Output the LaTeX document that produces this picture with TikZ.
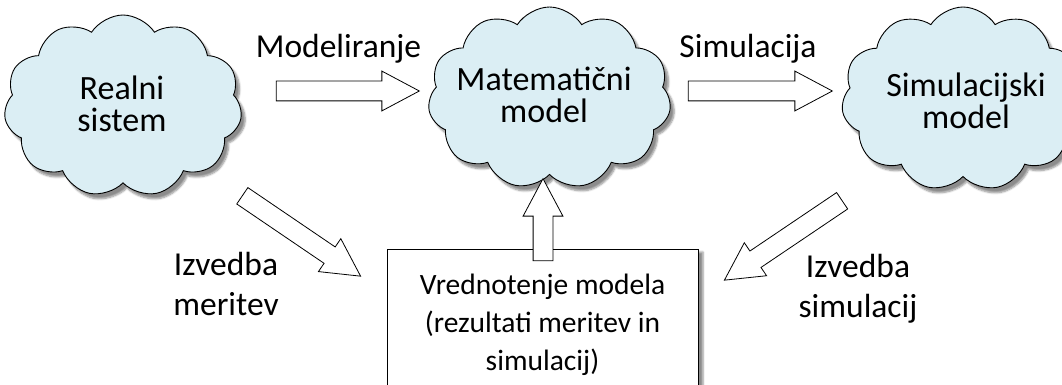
\documentclass[tikz,border=0pt]{standalone}
\usepackage{fontspec}
\setmainfont{Carlito}
\usetikzlibrary{shapes.symbols,shapes.arrows,shadows.blur}
\definecolor{oblakmodra}{RGB}{219,238,244}
\tikzset{
  oblak/.style={cloud, cloud puffs=11, cloud puff arc=115, cloud ignores aspect,
    draw=black, line width=0.9pt, fill=oblakmodra, inner sep=0pt,
    blur shadow={shadow xshift=4pt, shadow yshift=-5pt, shadow opacity=45, shadow blur steps=6}},
  oblaktekst/.style={align=center, font=\fontsize{34}{32}\selectfont},
  napis/.style={align=center, font=\fontsize{33.5}{40}\selectfont},
  puscica/.style={single arrow, draw=black, fill=white, line width=0.8pt,
    inner xsep=0pt, inner ysep=9.5pt, single arrow head extend=10pt,
    single arrow tip angle=56, minimum width=0pt},
  okvir/.style={draw=black, fill=white, line width=0.8pt, minimum width=311pt,
    minimum height=151pt, align=center, font=\fontsize{29.5}{38}\selectfont,
    blur shadow={shadow xshift=5pt, shadow yshift=-3pt, shadow opacity=45}}
}
\begin{document}
\begin{tikzpicture}[x=1pt,y=-1pt]
    \useasboundingbox (0,0) rectangle (1062,385);

    \node[oblak, minimum width=238pt, minimum height=182pt] (realni) at (123,106) {};
    \node[oblak, minimum width=243pt, minimum height=182pt] (matem) at (549.5,98) {};
    \node[oblak, minimum width=243pt, minimum height=184pt] (simul) at (963,99) {};
    \node[oblaktekst] (realnitekst) at (122,104) {Realni\\sistem};
    \node[oblaktekst] (matemtekst) at (544,95) {Matematični\\model};
    \node[oblaktekst] (simultekst) at (966,101) {Simulacijski\\model};

    \node[okvir] (vred) at (542.5,324.5) {Vrednotenje modela\\(rezultati meritev in\\simulacij)};

    \node[puscica, minimum height=143pt] (modpus) at (338.5,91) {};
    \node[puscica, minimum height=144pt] (simpus) at (751,91) {};
    \node[puscica, minimum height=143pt, rotate=-34.2] (merpus) at (293.75,230.75) {};
    \node[puscica, minimum height=142pt, rotate=-146] (izvpus) at (791,235.25) {};
    \node[puscica, minimum height=82pt, rotate=90] (vrpus) at (543,229) {};

    \node[napis, anchor=base] (modnap) at (338.5,58) {Modeliranje};
    \node[napis, anchor=base] (simnap) at (748,58) {Simulacija};
    \node[napis] (mernap) at (226,284) {Izvedba\\meritev};
    \node[napis] (izvnap) at (858,289) {Izvedba\\simulacij};
\end{tikzpicture}
\end{document}
